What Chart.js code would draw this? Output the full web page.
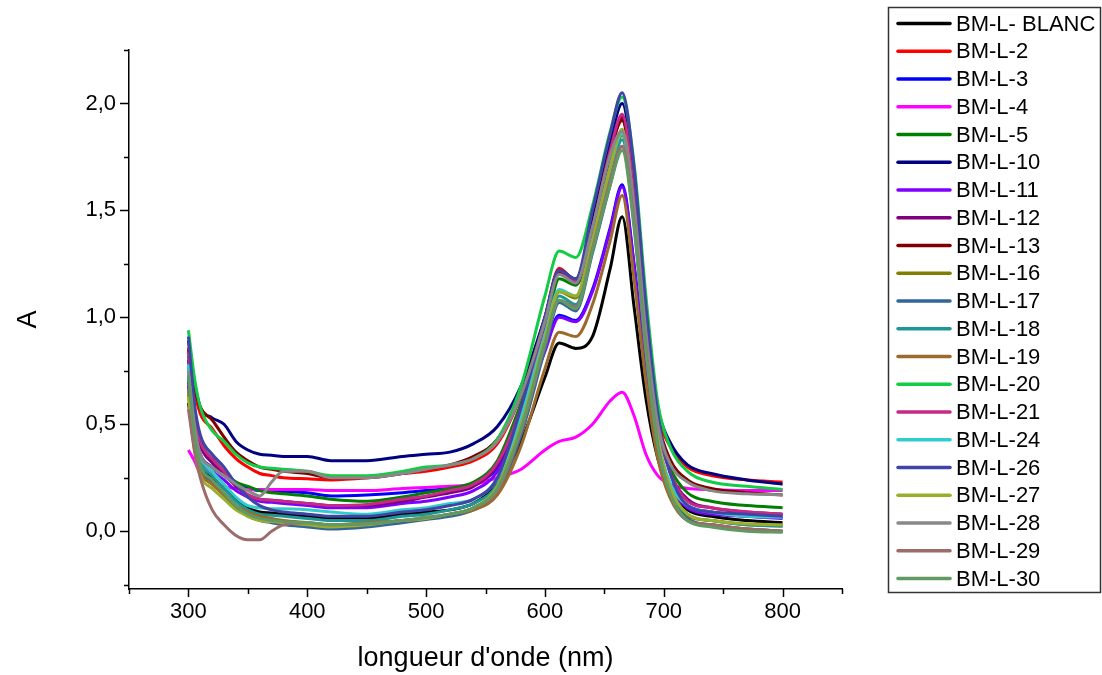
<!DOCTYPE html>
<html>
<head>
<meta charset="utf-8">
<title>Spectres BM-L</title>
<script src="https://cdn.jsdelivr.net/npm/chart.js@4.4.0/dist/chart.umd.min.js"></script>
<style>
  html, body { margin: 0; padding: 0; background: #fff; }
  #wrap { width: 1102px; height: 675px; position: relative; }
</style>
</head>
<body>
<div id="wrap"><canvas id="spectra"></canvas></div>
<script>
// wavelengths (nm) shared by every sample
const wavelength = [300, 305, 310, 320, 330, 340, 350, 360, 370, 380,
                    400, 420, 450, 480, 500, 520, 540, 560, 580, 600,
                    612, 626, 640, 655, 665, 675, 685, 695, 705, 720,
                    740, 770, 800];

// absorbance of each sample
const blanc = [0.60, 0.40, 0.30, 0.25, 0.20, 0.15, 0.11, 0.09, 0.085, 0.08,
               0.07, 0.06, 0.06, 0.08, 0.09, 0.10, 0.13, 0.22, 0.42, 0.72,
               0.88, 0.855, 0.91, 1.23, 1.47, 1.05, 0.62, 0.34, 0.20, 0.10,
               0.07, 0.05, 0.04];
const bml2 = [0.86, 0.66, 0.55, 0.48, 0.40, 0.34, 0.30, 0.27, 0.26, 0.25,
              0.245, 0.24, 0.25, 0.27, 0.28, 0.30, 0.33, 0.41, 0.64, 1.00,
              1.23, 1.17, 1.42, 1.78, 1.94, 1.58, 0.98, 0.55, 0.40, 0.30,
              0.26, 0.24, 0.23];
const bml3 = [0.70, 0.48, 0.36, 0.30, 0.26, 0.22, 0.20, 0.19, 0.185, 0.185,
              0.18, 0.165, 0.17, 0.18, 0.19, 0.20, 0.22, 0.30, 0.55, 0.85,
              1.01, 0.985, 1.13, 1.42, 1.62, 1.25, 0.75, 0.38, 0.22, 0.12,
              0.09, 0.07, 0.065];
const bml4 = [0.38, 0.33, 0.27, 0.23, 0.21, 0.20, 0.195, 0.195, 0.195, 0.195,
              0.195, 0.19, 0.19, 0.20, 0.205, 0.21, 0.22, 0.25, 0.29, 0.38,
              0.42, 0.44, 0.50, 0.61, 0.65, 0.54, 0.36, 0.26, 0.22, 0.20,
              0.195, 0.19, 0.19];
const bml5 = [0.82, 0.55, 0.42, 0.34, 0.28, 0.23, 0.21, 0.19, 0.18, 0.175,
              0.165, 0.15, 0.14, 0.16, 0.18, 0.20, 0.23, 0.33, 0.60, 0.92,
              1.18, 1.15, 1.38, 1.70, 1.86, 1.50, 0.92, 0.48, 0.30, 0.18,
              0.14, 0.12, 0.11];
const bml10 = [0.89, 0.70, 0.58, 0.53, 0.50, 0.42, 0.38, 0.36, 0.355, 0.35,
               0.35, 0.33, 0.33, 0.35, 0.36, 0.37, 0.41, 0.49, 0.68, 1.00,
               1.22, 1.18, 1.46, 1.82, 2.00, 1.65, 1.02, 0.58, 0.42, 0.31,
               0.27, 0.24, 0.22];
const bml11 = [0.68, 0.45, 0.34, 0.28, 0.24, 0.19, 0.16, 0.14, 0.135, 0.13,
               0.12, 0.11, 0.11, 0.13, 0.14, 0.16, 0.19, 0.28, 0.53, 0.84,
               1.00, 0.98, 1.12, 1.41, 1.61, 1.24, 0.74, 0.37, 0.21, 0.11,
               0.08, 0.07, 0.06];
const bml12 = [0.80, 0.52, 0.40, 0.32, 0.27, 0.21, 0.17, 0.15, 0.145, 0.14,
               0.13, 0.12, 0.12, 0.14, 0.16, 0.18, 0.21, 0.31, 0.58, 0.97,
               1.21, 1.16, 1.40, 1.76, 1.93, 1.56, 0.95, 0.50, 0.28, 0.15,
               0.11, 0.09, 0.08];
const bml13 = [0.85, 0.68, 0.58, 0.52, 0.44, 0.37, 0.33, 0.30, 0.29, 0.28,
               0.27, 0.25, 0.25, 0.27, 0.29, 0.31, 0.35, 0.43, 0.64, 0.99,
               1.22, 1.17, 1.42, 1.78, 1.92, 1.55, 0.95, 0.52, 0.34, 0.24,
               0.20, 0.18, 0.17];
const bml16 = [0.66, 0.40, 0.28, 0.22, 0.17, 0.12, 0.08, 0.06, 0.05, 0.04,
               0.03, 0.02, 0.03, 0.05, 0.06, 0.08, 0.11, 0.20, 0.48, 0.88,
               1.12, 1.09, 1.34, 1.68, 1.85, 1.48, 0.88, 0.42, 0.20, 0.07,
               0.05, 0.03, 0.025];
const bml17 = [0.72, 0.44, 0.30, 0.23, 0.17, 0.11, 0.07, 0.05, 0.04, 0.03,
               0.02, 0.01, 0.02, 0.04, 0.055, 0.07, 0.10, 0.18, 0.45, 0.85,
               1.07, 1.03, 1.30, 1.62, 1.80, 1.44, 0.85, 0.40, 0.18, 0.06,
               0.03, 0.01, 0.0];
const bml18 = [0.77, 0.47, 0.33, 0.26, 0.20, 0.14, 0.10, 0.08, 0.075, 0.07,
               0.06, 0.05, 0.05, 0.07, 0.08, 0.10, 0.13, 0.22, 0.50, 0.90,
               1.10, 1.06, 1.33, 1.66, 1.83, 1.46, 0.87, 0.42, 0.20, 0.08,
               0.05, 0.03, 0.025];
const bml19 = [0.64, 0.40, 0.28, 0.22, 0.17, 0.12, 0.09, 0.07, 0.06, 0.05,
               0.04, 0.03, 0.04, 0.05, 0.06, 0.08, 0.10, 0.17, 0.40, 0.76,
               0.93, 0.91, 1.06, 1.36, 1.57, 1.18, 0.70, 0.34, 0.16, 0.05,
               0.03, 0.01, 0.0];
const bml20 = [0.94, 0.72, 0.58, 0.47, 0.42, 0.36, 0.32, 0.30, 0.295, 0.29,
               0.28, 0.26, 0.26, 0.28, 0.30, 0.31, 0.34, 0.43, 0.68, 1.10,
               1.31, 1.28, 1.52, 1.87, 2.03, 1.72, 1.10, 0.60, 0.40, 0.28,
               0.23, 0.21, 0.195];
const bml21 = [0.84, 0.55, 0.42, 0.34, 0.28, 0.22, 0.17, 0.15, 0.145, 0.14,
               0.13, 0.12, 0.125, 0.15, 0.165, 0.19, 0.22, 0.32, 0.58, 0.98,
               1.22, 1.17, 1.42, 1.78, 1.95, 1.58, 0.96, 0.50, 0.28, 0.14,
               0.11, 0.09, 0.08];
const bml24 = [0.78, 0.48, 0.35, 0.28, 0.22, 0.16, 0.12, 0.11, 0.105, 0.105,
               0.10, 0.09, 0.08, 0.10, 0.11, 0.13, 0.15, 0.25, 0.54, 0.92,
               1.13, 1.10, 1.36, 1.70, 1.86, 1.49, 0.89, 0.44, 0.23, 0.12,
               0.09, 0.07, 0.065];
const bml26 = [0.91, 0.60, 0.45, 0.36, 0.30, 0.22, 0.16, 0.12, 0.10, 0.09,
               0.08, 0.07, 0.07, 0.09, 0.10, 0.12, 0.15, 0.25, 0.58, 1.00,
               1.22, 1.18, 1.50, 1.86, 2.05, 1.70, 1.05, 0.55, 0.28, 0.12,
               0.09, 0.08, 0.07];
const bml27 = [0.63, 0.38, 0.26, 0.20, 0.15, 0.10, 0.07, 0.05, 0.045, 0.04,
               0.03, 0.02, 0.03, 0.05, 0.06, 0.08, 0.11, 0.21, 0.50, 0.90,
               1.12, 1.10, 1.36, 1.70, 1.88, 1.50, 0.89, 0.43, 0.21, 0.08,
               0.05, 0.035, 0.03];
const bml28 = [0.75, 0.50, 0.36, 0.30, 0.26, 0.22, 0.19, 0.165, 0.23, 0.28,
               0.28, 0.25, 0.25, 0.27, 0.29, 0.31, 0.34, 0.42, 0.64, 0.98,
               1.20, 1.16, 1.42, 1.76, 1.87, 1.52, 0.93, 0.50, 0.32, 0.23,
               0.19, 0.175, 0.17];
const bml29 = [0.57, 0.38, 0.25, 0.10, 0.03, -0.02, -0.04, -0.04, 0.0, 0.03,
               0.04, 0.03, 0.035, 0.05, 0.065, 0.08, 0.11, 0.19, 0.47, 0.87,
               1.08, 1.05, 1.32, 1.64, 1.80, 1.44, 0.85, 0.40, 0.18, 0.05,
               0.03, 0.01, 0.0];
const bml30 = [0.73, 0.45, 0.31, 0.24, 0.18, 0.12, 0.08, 0.06, 0.05, 0.045,
               0.04, 0.03, 0.035, 0.05, 0.065, 0.08, 0.11, 0.20, 0.48, 0.88,
               1.08, 1.04, 1.31, 1.62, 1.78, 1.42, 0.84, 0.40, 0.18, 0.05,
               0.02, 0.0, -0.005];

const sampleNames = ['BM-L- BLANC', 'BM-L-2', 'BM-L-3', 'BM-L-4', 'BM-L-5', 'BM-L-10',
                     'BM-L-11', 'BM-L-12', 'BM-L-13', 'BM-L-16', 'BM-L-17', 'BM-L-18',
                     'BM-L-19', 'BM-L-20', 'BM-L-21', 'BM-L-24', 'BM-L-26', 'BM-L-27',
                     'BM-L-28', 'BM-L-29', 'BM-L-30'];
const sampleValues = [blanc, bml2, bml3, bml4, bml5, bml10, bml11, bml12, bml13, bml16,
                      bml17, bml18, bml19, bml20, bml21, bml24, bml26, bml27, bml28,
                      bml29, bml30];
const sampleColors = ['#000000', '#ff0000', '#0000ff', '#ff00ff', '#008000', '#000080',
                      '#8000ff', '#800080', '#800000', '#808000', '#336699', '#1e9696',
                      '#9c6a2c', '#11cc44', '#c62a85', '#33cccc', '#3f45a6', '#9aae2c',
                      '#888888', '#9e6b6b', '#609a62'];

// axis ticks
const xTicks = [300, 400, 500, 600, 700, 800];
const xMinorTicks = [250, 350, 450, 550, 650, 750, 850];
const yTicks = [0, 0.5, 1.0, 1.5, 2.0];
const yMinorTicks = [-0.25, 0.25, 0.75, 1.25, 1.75, 2.25];

const FONT = "'Liberation Sans', Arial, sans-serif";

var datasets = sampleNames.map(function (name, i) {
    return {
        label: name,
        data: wavelength.map(function (w, j) { return {x: w, y: sampleValues[i][j]}; }),
        borderColor: sampleColors[i],
        backgroundColor: sampleColors[i],
        borderWidth: 3,
        pointRadius: 0,
        fill: false,
        cubicInterpolationMode: 'monotone',
        order: sampleNames.length - i
    };
});

// outward tick marks, majors longer than minors
var tickMarks = {
    id: 'tickMarks',
    afterDraw: function (chart) {
        var ctx = chart.ctx;
        var xs = chart.scales.x, ys = chart.scales.y;
        var bottom = chart.chartArea.bottom, left = chart.chartArea.left;
        ctx.save();
        ctx.strokeStyle = '#000';
        ctx.lineWidth = 1.5;
        ctx.beginPath();
        xTicks.forEach(function (v) {
            var px = Math.round(xs.getPixelForValue(v)) + 0.5;
            ctx.moveTo(px, bottom); ctx.lineTo(px, bottom + 8);
        });
        xMinorTicks.forEach(function (v) {
            var px = Math.round(xs.getPixelForValue(v)) + 0.5;
            ctx.moveTo(px, bottom); ctx.lineTo(px, bottom + 5);
        });
        yTicks.forEach(function (v) {
            var py = Math.round(ys.getPixelForValue(v)) + 0.5;
            ctx.moveTo(left, py); ctx.lineTo(left - 9, py);
        });
        yMinorTicks.forEach(function (v) {
            var py = Math.round(ys.getPixelForValue(v)) + 0.5;
            ctx.moveTo(left, py); ctx.lineTo(left - 5, py);
        });
        ctx.stroke();
        ctx.restore();
    }
};

// framed legend to the right of the plot
var boxLegend = {
    id: 'boxLegend',
    afterDraw: function (chart) {
        var ctx = chart.ctx;
        ctx.save();
        ctx.strokeStyle = '#333';
        ctx.lineWidth = 1.5;
        ctx.strokeRect(888.5, 7.5, 212, 585);
        ctx.font = '22px ' + FONT;
        ctx.textBaseline = 'middle';
        ctx.fillStyle = '#000';
        chart.data.datasets.forEach(function (ds, i) {
            var y = 23.5 + i * 27.75;
            ctx.strokeStyle = ds.borderColor;
            ctx.lineWidth = 3.5;
            ctx.lineCap = 'round';
            ctx.beginPath();
            ctx.moveTo(898, y); ctx.lineTo(950, y);
            ctx.stroke();
            ctx.fillText(ds.label, 956, y + 1);
        });
        ctx.restore();
    }
};

new Chart(document.getElementById('spectra'), {
    type: 'line',
    data: {datasets: datasets},
    plugins: [tickMarks, boxLegend],
    options: {
        responsive: true,
        maintainAspectRatio: false,
        animation: false,
        devicePixelRatio: 1,
        layout: {padding: {top: 50, right: 260, left: 0, bottom: 0}},
        plugins: {
            legend: {display: false},
            tooltip: {enabled: false}
        },
        scales: {
            x: {
                type: 'linear',
                min: 250,
                max: 850,
                afterFit: function (s) { s.height = 86; },
                afterBuildTicks: function (s) {
                    s.ticks = xTicks.map(function (v) { return {value: v}; });
                },
                grid: {display: false, drawTicks: false},
                border: {display: true, color: '#000', width: 1.5},
                ticks: {
                    color: '#000',
                    padding: 10,
                    maxRotation: 0,
                    font: {family: FONT, size: 22}
                },
                title: {
                    display: true,
                    text: "longueur d'onde (nm)",
                    color: '#000',
                    padding: {top: 0, bottom: 0},
                    font: {family: FONT, size: 27}
                }
            },
            y: {
                type: 'linear',
                min: -0.27,
                max: 2.25,
                afterFit: function (s) { s.width = 129; },
                afterBuildTicks: function (s) {
                    s.ticks = yTicks.map(function (v) { return {value: v}; });
                },
                grid: {display: false, drawTicks: false},
                border: {display: true, color: '#000', width: 1.5},
                ticks: {
                    color: '#000',
                    padding: 13,
                    font: {family: FONT, size: 22},
                    callback: function (v) { return v.toFixed(1).replace('.', ','); }
                },
                title: {
                    display: true,
                    text: 'A',
                    color: '#000',
                    padding: {top: 12, bottom: 0},
                    font: {family: FONT, size: 27}
                }
            }
        }
    }
});
</script>
</body>
</html>
